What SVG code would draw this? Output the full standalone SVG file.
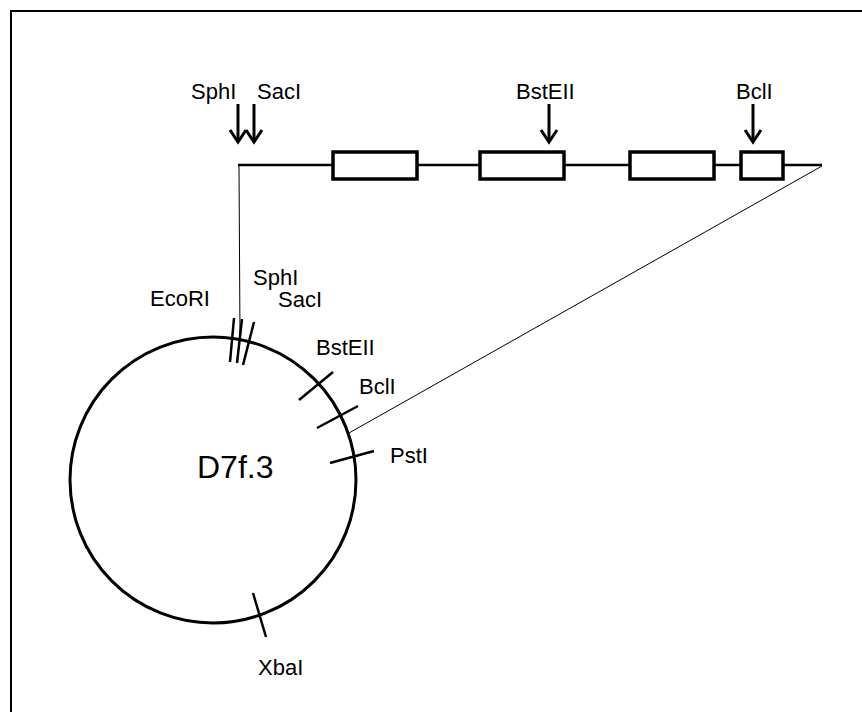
<svg xmlns="http://www.w3.org/2000/svg" width="862" height="712" viewBox="0 0 862 712">
<style>
text{font-family:"Liberation Sans",Arial,sans-serif;font-size:22px;fill:#000}
.thick{stroke:#000;stroke-width:2.5;fill:none}
.thin{stroke:#000;stroke-width:1;fill:none}
.box{stroke:#000;stroke-width:3.5;fill:#fff}
.arr{stroke:#000;stroke-width:3;fill:none;stroke-linejoin:miter}
</style>
<defs>
<g id="arrow"><line x1="0" y1="104" x2="0" y2="141" class="arr"/><polyline points="-8,130 0,142 8,130" class="arr"/></g>
</defs>
<rect width="862" height="712" fill="#fff"/>
<path d="M11,712 V11 H862" stroke="#000" stroke-width="2" fill="none"/>
<g id="connectors">
<line x1="239" y1="165" x2="240" y2="340" class="thin"/>
<line x1="349" y1="433" x2="822" y2="166" class="thin"/>
</g>
<g id="insert">
<line x1="238" y1="165" x2="822" y2="165" class="thick"/>
<rect x="333" y="152" width="84" height="27" class="box"/>
<rect x="480" y="152" width="84" height="27" class="box"/>
<rect x="630" y="152" width="84" height="27" class="box"/>
<rect x="741" y="152" width="42" height="27" class="box"/>
</g>
<g id="top-sites">
<use href="#arrow" x="238"/>
<use href="#arrow" x="254"/>
<use href="#arrow" x="549"/>
<use href="#arrow" x="753"/>
<text x="191" y="99">SphI</text>
<text x="257" y="99">SacI</text>
<text x="516" y="99">BstEII</text>
<text x="736" y="99">BclI</text>
</g>
<g id="plasmid">
<circle cx="213" cy="480" r="143" stroke="#000" stroke-width="3" fill="none"/>
<text x="197" y="478" style="font-size:32px">D7f.3</text>
</g>
<g id="circle-sites">
<line x1="234" y1="318" x2="230" y2="362" class="thick"/>
<line x1="242" y1="319" x2="237" y2="363" class="thick"/>
<line x1="254" y1="322" x2="243" y2="365" class="thick"/>
<line x1="299" y1="400" x2="333" y2="372" class="thick"/>
<line x1="317" y1="428" x2="358" y2="406" class="thick"/>
<line x1="330" y1="463" x2="374" y2="451" class="thick"/>
<line x1="253" y1="593" x2="266" y2="637" class="thick"/>
<text x="150" y="306">EcoRI</text>
<text x="253" y="285">SphI</text>
<text x="278" y="307">SacI</text>
<text x="316" y="355">BstEII</text>
<text x="359" y="394">BclI</text>
<text x="390" y="463">PstI</text>
<text x="258" y="675">XbaI</text>
</g>
</svg>
